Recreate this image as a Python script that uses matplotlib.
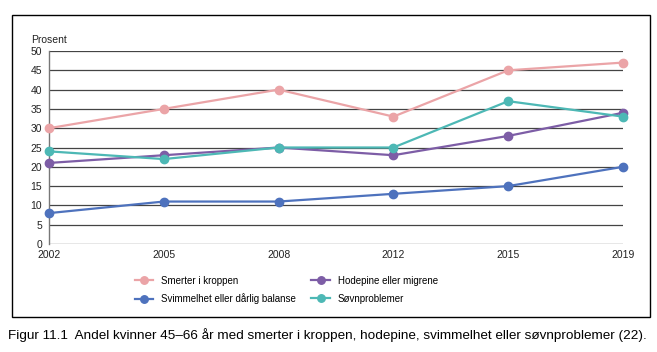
import matplotlib.pyplot as plt
from matplotlib.patches import Rectangle

years = ["2002", "2005", "2008", "2012", "2015", "2019"]
smerter = [30, 35, 40, 33, 45, 47]
hodepine = [21, 23, 25, 23, 28, 34]
svimmelhet = [8, 11, 11, 13, 15, 20]
sovn = [24, 22, 25, 25, 37, 33]

plt.rcParams['font.family'] = ['Liberation Sans Narrow', 'Liberation Sans', 'DejaVu Sans']

W, H = 657, 352
fig = plt.figure(figsize=(W / 100, H / 100), dpi=100)

# outer frame
fig.add_artist(Rectangle((12 / W, 1 - 317 / H), (650 - 12) / W, (317 - 15) / H,
                         transform=fig.transFigure, fill=False, edgecolor='black', lw=1.0))

ax = fig.add_axes([49 / W, 1 - 244 / H, (623 - 49) / W, (244 - 51) / H])
x = list(range(len(years)))

## horizontal grid lines
for v in range(0, 55, 5):
    ax.axhline(v, color='#444444', lw=0.9, zorder=1)

series = [
    ("Smerter i kroppen", smerter, '#EBA4A7'),
    ("Svimmelhet eller dårlig balanse", svimmelhet, '#4E72BD'),
    ("Hodepine eller migrene", hodepine, '#7D5DA6'),
    ("Søvnproblemer", sovn, '#4DB8B5'),
]
for name, vals, col in series:
    ax.plot(x, vals, color=col, lw=1.6, marker='o', markersize=6,
            label=name, zorder=3, clip_on=False)

ax.set_xlim(0, 5)
ax.set_ylim(0, 50)
ax.set_xticks(x)
ax.set_xticklabels(years)
ax.set_yticks(range(0, 55, 5))
ax.tick_params(length=0, labelsize=7.5, colors='#222222')
ax.tick_params(axis='x', pad=4)
ax.tick_params(axis='y', pad=5)
for s in ['top', 'right', 'bottom']:
    ax.spines[s].set_visible(False)
ax.spines['left'].set_color('#777777')
ax.spines['left'].set_linewidth(1.0)

fig.text(31 / W, 1 - 40 / H, "Prosent", fontsize=7.5, va='center', ha='left', color='#222222')

fig.legend(loc='upper left', bbox_to_anchor=(126 / W, 1 - 267 / H), ncol=2,
           frameon=False, fontsize=7, handlelength=1.9, columnspacing=1.6,
           labelspacing=0.8, handletextpad=0.8, markerscale=0.9)

fig.text(8 / W, 1 - 335 / H,
         "Figur 11.1  Andel kvinner 45–66 år med smerter i kroppen, hodepine, svimmelhet eller søvnproblemer (22).",
         fontsize=9.7, va='center', ha='left')

fig.savefig("out.png", dpi=100)
